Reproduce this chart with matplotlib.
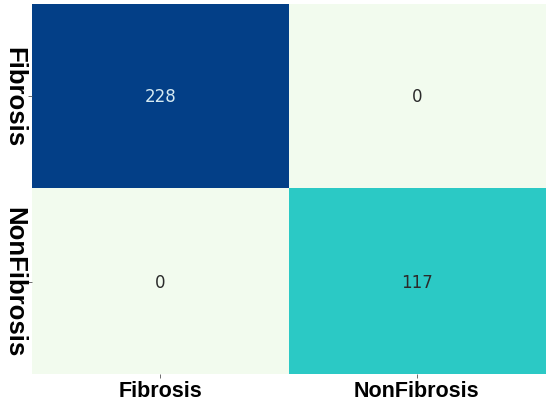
import matplotlib
matplotlib.use('Agg')
import matplotlib.pyplot as plt
from matplotlib.colors import LinearSegmentedColormap
import numpy as np

# confusion matrix values
labels = ['Fibrosis', 'NonFibrosis']
cm = np.array([[228, 0],
               [0, 117]])

cmap = LinearSegmentedColormap.from_list(
    'cm', [(0.0, '#f2fbee'), (117 / 228, '#2ccac6'), (1.0, '#033f87')])

fig = plt.figure(figsize=(5.5, 4.06), dpi=100)
ax = fig.add_axes([0.058, 0.076, 0.933, 0.912])
ax.imshow(cm, cmap=cmap, vmin=0, vmax=228, aspect='auto')

for i in range(2):
    for j in range(2):
        c = '#d6eaf2' if cm[i, j] > 170 else '#2b2b2b'
        ax.text(j, i, str(cm[i, j]), ha='center', va='center',
                fontsize=12, color=c, family='DejaVu Sans')

ax.set_xticks([0, 1])
ax.set_xticklabels(labels, fontsize=15.5, fontweight='bold', family='Liberation Sans')
ax.set_yticks([0, 1])
ax.set_yticklabels(labels, fontsize=18.5, fontweight='bold', family='Liberation Sans',
                   rotation=-90, va='center')
ax.tick_params(length=3, width=0.6, color='#555555', pad=1)
for s in ax.spines.values():
    s.set_visible(False)

fig.savefig('out.png', dpi=100)
